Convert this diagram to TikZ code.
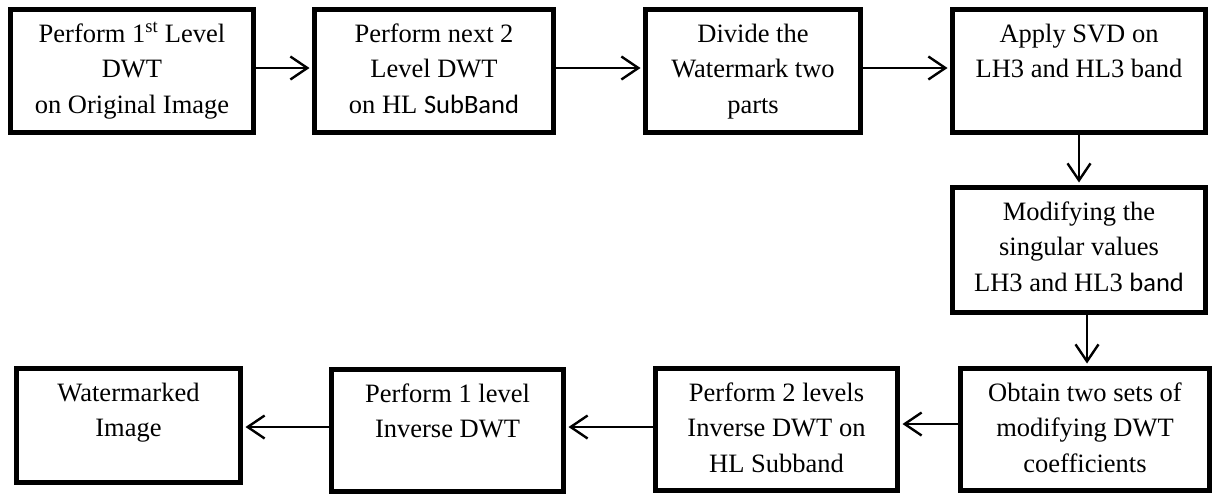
\documentclass[tikz,border=0pt]{standalone}
\usepackage{fontspec}
\setmainfont{Liberation Serif}
\newfontfamily\calib{Carlito}
\usetikzlibrary{arrows.meta}

\tikzset{
  box/.style={draw, line width=5pt, inner sep=0pt},
  txt/.style={anchor=base, align=center, inner sep=0pt,
    font=\fontsize{26.5}{35.5}\selectfont},
  arr/.style={line width=2.2pt, shorten >=2.5pt,
    -{Straight Barb[length=17pt,width=23pt,line width=2.4pt]}}
}

\begin{document}
\begin{tikzpicture}[x=1pt,y=-1pt]
  % canvas
  \fill[white] (0,0) rectangle (1218,496);

  % process boxes
  \node[box, minimum width=243pt, minimum height=123pt] (b1) at (132,71) {};
  \node[box, minimum width=239pt, minimum height=123pt] (b2) at (434,71) {};
  \node[box, minimum width=215pt, minimum height=123pt] (b3) at (753,71) {};
  \node[box, minimum width=253pt, minimum height=123pt] (b4) at (1079,71) {};
  \node[box, minimum width=253pt, minimum height=125pt] (b5) at (1079,250) {};
  \node[box, minimum width=249pt, minimum height=122pt] (b6) at (1085,429.5) {};
  \node[box, minimum width=242pt, minimum height=122pt] (b7) at (776.5,429.5) {};
  \node[box, minimum width=232pt, minimum height=122pt] (b8) at (447.5,430.5) {};
  \node[box, minimum width=224pt, minimum height=114pt] (b9) at (128.5,425.5) {};

  % box captions: one node per line, baselines 35.5pt apart from the box top
  \foreach \b/\lines in {
      b1/{Perform 1\textsuperscript{st} Level,DWT,on Original Image},
      b2/{Perform next 2,Level DWT,on HL {\calib SubBand}},
      b3/{Divide the,Watermark two,parts},
      b4/{Apply SVD on,LH3 and HL3 band},
      b5/{Modifying the,singular values,LH3 and HL3 {\calib band}},
      b6/{Obtain two sets of,modifying DWT,coefficients},
      b7/{Perform 2 levels,Inverse DWT on,HL Subband},
      b8/{Perform 1 level,Inverse DWT},
      b9/{Watermarked,Image}}{
    \foreach \l [count=\i] in \lines
      \node[txt] (\b-l\i) at ([yshift={-35pt-35.5pt*(\i-1)}]\b.north) {\l};
  }

  % flow
  \draw[arr] ([yshift=3pt]b1.east) -- ([yshift=3pt]b1.east -| b2.west);
  \draw[arr] ([yshift=3pt]b2.east) -- ([yshift=3pt]b2.east -| b3.west);
  \draw[arr] ([yshift=3pt]b3.east) -- ([yshift=3pt]b3.east -| b4.west);
  \draw[arr] (b4.south) -- (b4.south |- b5.north);
  \draw[arr] ([xshift=8pt]b5.south) -- ([xshift=8pt]b5.south |- b6.north);
  \draw[arr] ([yshift=5.5pt]b6.west) -- ([yshift=5.5pt]b6.west -| b7.east);
  \draw[arr] ([yshift=2.5pt]b7.west) -- ([yshift=2.5pt]b7.west -| b8.east);
  \draw[arr] ([yshift=3.5pt]b8.west) -- ([yshift=3.5pt]b8.west -| b9.east);
\end{tikzpicture}
\end{document}
